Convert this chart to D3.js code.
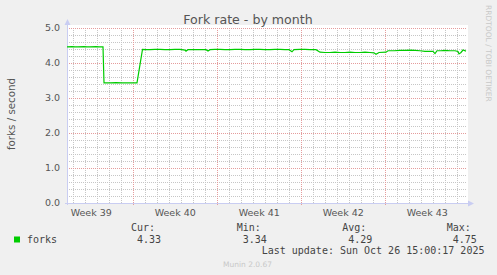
<!DOCTYPE html>
<html>
<head>
<meta charset="utf-8">
<script src="https://cdn.jsdelivr.net/npm/d3@7"></script>
<style>
  html, body { margin: 0; padding: 0; background: #f0f0f0; }
  svg { display: block; }
</style>
</head>
<body>
<script>
// ---- data ----
const title = "Fork rate - by month";
const yLabel = "forks / second";
const seriesName = "forks";
const startTime = "2025-09-23T11:30:00";
const spanHours = 800;
// hours since startTime
const hours = [0, 10, 16, 22, 34, 40, 46, 58, 64, 72, 74, 86, 98, 110, 126, 140, 151, 158, 166, 176, 186, 196, 206, 216, 226, 236, 238, 242, 254, 266, 278, 282, 286, 296, 306, 316, 326, 336, 346, 356, 366, 376, 386, 396, 406, 416, 426, 436, 444, 450, 454, 466, 476, 486, 498, 506, 516, 526, 536, 546, 556, 566, 576, 586, 596, 606, 614, 618, 624, 638, 642, 654, 666, 676, 686, 696, 706, 716, 724, 732, 736, 740, 748, 756, 766, 776, 782, 784, 788, 792, 798];
const forks = [4.46, 4.47, 4.46, 4.46, 4.47, 4.46, 4.46, 4.47, 4.46, 4.46, 3.43, 3.43, 3.44, 3.43, 3.43, 3.43, 4.39, 4.38, 4.38, 4.39, 4.39, 4.38, 4.38, 4.39, 4.39, 4.37, 4.34, 4.38, 4.38, 4.38, 4.38, 4.34, 4.38, 4.39, 4.39, 4.38, 4.38, 4.39, 4.39, 4.38, 4.38, 4.39, 4.39, 4.38, 4.38, 4.39, 4.39, 4.38, 4.38, 4.32, 4.38, 4.39, 4.39, 4.38, 4.38, 4.31, 4.30, 4.30, 4.31, 4.30, 4.30, 4.31, 4.30, 4.30, 4.31, 4.30, 4.29, 4.25, 4.30, 4.31, 4.35, 4.35, 4.36, 4.36, 4.37, 4.36, 4.35, 4.33, 4.33, 4.33, 4.27, 4.35, 4.35, 4.36, 4.35, 4.35, 4.33, 4.26, 4.30, 4.37, 4.34];
const yTicks = [0, 1, 2, 3, 4, 5];
const legendHeads = ["Cur:", "Min:", "Avg:", "Max:"];
const legendVals = ["4.33", "3.34", "4.29", "4.75"];
const lastUpdate = "Last update: Sun Oct 26 15:00:17 2025";
const footer = "Munin 2.0.67";
const watermark = "RRDTOOL / TOBI OETIKER";

// ---- layout ----
const W = 497, H = 275;
const L = 67, R = 467, T = 28, B = 203;

const svg = d3.select("body").append("svg").attr("width", W).attr("height", H);
svg.append("rect").attr("width", W).attr("height", H).attr("fill", "#f0f0f0");

const t0 = new Date(startTime);
const t1 = d3.timeHour.offset(t0, spanHours);
const x = d3.scaleTime().domain([t0, t1]).range([L, R]);
const y = d3.scaleLinear().domain([0, 5]).range([B, T]);

// plot background
svg.append("rect").attr("x", L).attr("y", 25).attr("width", R - L + 1).attr("height", B - 25).attr("fill", "#ffffff");

// minor grid
const g = svg.append("g");
const minorY = d3.range(0, 5.01, 0.2).filter(v => Math.abs(v - Math.round(v)) > 1e-6);
g.selectAll(".mgy").data(minorY).join("line")
  .attr("x1", L).attr("x2", R).attr("y1", d => Math.round(y(d)) + 0.5).attr("y2", d => Math.round(y(d)) + 0.5)
  .attr("stroke", "#c6c6c6").attr("stroke-dasharray", "1,1");
const days = d3.timeDay.range(t0, t1).filter(d => d.getDay() !== 1);
g.selectAll(".mgx").data(days).join("line")
  .attr("x1", d => Math.round(x(d)) + 0.5).attr("x2", d => Math.round(x(d)) + 0.5).attr("y1", T).attr("y2", B)
  .attr("stroke", "#c6c6c6").attr("stroke-dasharray", "1,1");

// major grid
g.selectAll(".My").data(yTicks.filter(v => v > 0)).join("line")
  .attr("x1", L).attr("x2", R).attr("y1", d => Math.round(y(d)) + 0.5).attr("y2", d => Math.round(y(d)) + 0.5)
  .attr("stroke", "#e59c9c").attr("stroke-dasharray", "1,1");
const mondays = d3.timeMonday.range(t0, t1);
g.selectAll(".Mx").data(mondays).join("line")
  .attr("x1", d => Math.round(x(d)) + 0.5).attr("x2", d => Math.round(x(d)) + 0.5).attr("y1", T).attr("y2", B + 3)
  .attr("stroke", "#e59c9c").attr("stroke-dasharray", "1,1");

// axes
const axisColor = "#c9cdf2";
svg.append("line").attr("x1", L + 0.5).attr("x2", L + 0.5).attr("y1", 24).attr("y2", B + 2).attr("stroke", axisColor);
svg.append("line").attr("x1", L - 2).attr("x2", R + 2).attr("y1", B + 0.5).attr("y2", B + 0.5).attr("stroke", axisColor);
svg.append("path").attr("d", `M${L - 2.5},25 L${L + 3.5},25 L${L + 0.5},19 Z`).attr("fill", axisColor);
svg.append("path").attr("d", `M${R + 1},${B - 2.5} L${R + 1},${B + 3.5} L${R + 7},${B + 0.5} Z`).attr("fill", axisColor);

// y tick labels
svg.append("g").selectAll("text").data(yTicks).join("text")
  .attr("x", 60).attr("y", d => y(d)).attr("dy", "0.36em")
  .attr("text-anchor", "end")
  .attr("font-family", "DejaVu Sans").attr("font-size", 9.5).attr("fill", "#555")
  .text(d => d3.format(".1f")(d));

// x labels (mid-week)
const weekFmt = d3.timeFormat("%V");
const weekStarts = d3.timeMonday.range(d3.timeMonday.floor(t0), t1);
svg.append("g").selectAll("text").data(weekStarts.filter(d => {
    const m = d3.timeHour.offset(d, 84); return m >= t0 && m <= t1; }))
  .join("text")
  .attr("x", d => x(d3.timeHour.offset(d, 84))).attr("y", 215.5)
  .attr("text-anchor", "middle")
  .attr("font-family", "DejaVu Sans").attr("font-size", 9.5).attr("fill", "#555")
  .text(d => "Week " + weekFmt(d));

// line
const pts = hours.map((h, i) => ({ t: d3.timeHour.offset(t0, h), v: forks[i] }));
svg.append("path").datum(pts)
  .attr("fill", "none").attr("stroke", "#00cc00").attr("stroke-width", 1.2)
  .attr("d", d3.line().x(d => x(d.t)).y(d => y(d.v)));

// title
svg.append("text").attr("x", 248).attr("y", 24).attr("text-anchor", "middle")
  .attr("font-family", "DejaVu Sans").attr("font-size", 12.6).attr("fill", "#555").text(title);

// y label
svg.append("text").attr("transform", "translate(14.5,114) rotate(-90)")
  .attr("text-anchor", "middle")
  .attr("font-family", "DejaVu Sans").attr("font-size", 10.3).attr("fill", "#555").text(yLabel);

// legend
const mono = "DejaVu Sans Mono";
svg.append("rect").attr("x", 14).attr("y", 236.5).attr("width", 6).attr("height", 6).attr("fill", "#00cc00");
svg.append("text").attr("x", 27).attr("y", 242.7).attr("font-family", mono).attr("font-size", 10).attr("fill", "#444").text(seriesName);
const headX = [131, 236.7, 342.3, 446.7];
svg.append("g").selectAll("text").data(legendHeads).join("text")
  .attr("x", (d, i) => headX[i]).attr("y", 231)
  .attr("font-family", mono).attr("font-size", 10).attr("fill", "#444").text(d => d);
svg.append("g").selectAll("text").data(legendVals).join("text")
  .attr("x", (d, i) => headX[i] + 6).attr("y", 242.7)
  .attr("font-family", mono).attr("font-size", 10).attr("fill", "#444").text(d => d);
svg.append("text").attr("x", 261.7).attr("y", 254.3).attr("font-family", mono).attr("font-size", 10).attr("fill", "#444").text(lastUpdate);

// footer
svg.append("text").attr("x", 247.5).attr("y", 266.7).attr("text-anchor", "middle")
  .attr("font-family", "DejaVu Sans").attr("font-size", 7.5).attr("fill", "#c8c8c8").text(footer);

// watermark
svg.append("text").attr("transform", "translate(485.5,5) rotate(90)")
  .attr("font-family", "DejaVu Sans").attr("font-size", 7.5).attr("fill", "#c8c8c8").text(watermark);
</script>
</body>
</html>
